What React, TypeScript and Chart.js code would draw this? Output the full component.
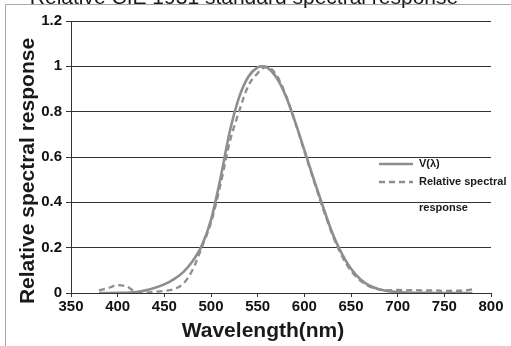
import React, { useEffect, useRef } from "react";
import { Chart, registerables } from "chart.js";

Chart.register(...registerables);

const titleText = "Relative CIE 1931 standard spectral response";
const xTitle = "Wavelength(nm)";
const yTitle = "Relative spectral response";
const seriesNames = ["V(λ)", "Relative spectral", "response"];

const wavelengths = [380, 390, 400, 410, 420, 430, 440, 450, 460, 470, 480, 490, 500, 510, 520, 530, 540, 550, 555, 560, 570, 580, 590, 600, 610, 620, 630, 640, 650, 660, 670, 680, 690, 700, 710, 720, 730, 740, 750, 760, 770, 780];
const vLambda = [0.0000, 0.0001, 0.0004, 0.0012, 0.004, 0.0116, 0.023, 0.038, 0.06, 0.091, 0.139, 0.208, 0.323, 0.503, 0.71, 0.862, 0.954, 0.995, 1.0, 0.995, 0.952, 0.87, 0.757, 0.631, 0.503, 0.381, 0.265, 0.175, 0.107, 0.061, 0.032, 0.017, 0.0082, 0.0041, 0.0021, 0.001, 0.0005, 0.0003, 0.0001, 0.0001, 0, 0];
const relResponse = [0.012, 0.022, 0.035, 0.028, 0.004, 0.002, 0.005, 0.009, 0.017, 0.04, 0.1, 0.2, 0.31, 0.475, 0.665, 0.8, 0.915, 0.97, 0.99, 0.998, 0.962, 0.875, 0.755, 0.625, 0.497, 0.372, 0.258, 0.165, 0.098, 0.055, 0.028, 0.016, 0.012, 0.014, 0.012, 0.013, 0.011, 0.012, 0.009, 0.01, 0.01, 0.016];

const FONT = "'Liberation Sans', Arial, Helvetica, sans-serif";
const LINE_COLOR = "#8e8e8e";

const decorPlugin = {
  id: "decor",
  afterDraw(chart: any) {
    const ctx = chart.ctx as CanvasRenderingContext2D;
    const W = chart.width;
    const H = chart.height;
    ctx.save();
    // frame
    ctx.strokeStyle = "#a8a8a8";
    ctx.lineWidth = 1;
    ctx.beginPath();
    ctx.moveTo(5.5, H);
    ctx.lineTo(5.5, 4.5);
    ctx.lineTo(W, 4.5);
    ctx.stroke();
    // title (cut off at top)
    ctx.fillStyle = "#1a1a1a";
    ctx.font = `21px ${FONT}`;
    ctx.textAlign = "center";
    ctx.textBaseline = "alphabetic";
    ctx.fillText(titleText, 244, 4);
    // x title
    ctx.font = `bold 21px ${FONT}`;
    ctx.fillText(xTitle, 263, 337);
    // y title
    ctx.save();
    ctx.translate(34, 171);
    ctx.rotate(-Math.PI / 2);
    ctx.fillText(yTitle, 0, 0);
    ctx.restore();
    // legend
    ctx.strokeStyle = LINE_COLOR;
    ctx.lineWidth = 2.5;
    ctx.beginPath();
    ctx.moveTo(379, 164);
    ctx.lineTo(413, 164);
    ctx.stroke();
    ctx.setLineDash([6, 4]);
    ctx.beginPath();
    ctx.moveTo(379, 182);
    ctx.lineTo(413, 182);
    ctx.stroke();
    ctx.setLineDash([]);
    ctx.fillStyle = "#1a1a1a";
    ctx.font = `bold 11px ${FONT}`;
    ctx.textAlign = "left";
    ctx.textBaseline = "middle";
    ctx.fillText(seriesNames[0], 419, 164);
    ctx.fillText(seriesNames[1], 419, 182);
    ctx.fillText(seriesNames[2], 419, 208);
    ctx.restore();
  },
};

export default function App() {
  const ref = useRef<HTMLCanvasElement>(null);
  useEffect(() => {
    const canvas = ref.current!;
    const chart = new Chart(canvas, {
      type: "line",
      data: {
        datasets: [
          {
            label: seriesNames[0],
            data: wavelengths.map((w, i) => ({ x: w, y: vLambda[i] })),
            borderColor: LINE_COLOR,
            borderWidth: 2.6,
            pointRadius: 0,
            cubicInterpolationMode: "monotone",
            fill: false,
            order: 0,
          },
          {
            label: seriesNames[1] + " " + seriesNames[2],
            data: wavelengths.map((w, i) => ({ x: w, y: relResponse[i] })),
            borderColor: LINE_COLOR,
            borderWidth: 2.3,
            borderDash: [6, 4],
            pointRadius: 0,
            cubicInterpolationMode: "monotone",
            fill: false,
            order: 1,
          },
        ],
      },
      options: {
        animation: false,
        responsive: false,
        devicePixelRatio: 1,
        layout: { padding: { left: 0, top: 21, right: 20, bottom: 0 } },
        plugins: { legend: { display: false }, tooltip: { enabled: false }, title: { display: false } },
        scales: {
          x: {
            type: "linear",
            min: 350,
            max: 800,
            ticks: { stepSize: 50, color: "#111", font: { family: FONT, size: 15, weight: "bold" }, padding: 1, maxRotation: 0 },
            grid: { drawOnChartArea: false, drawTicks: true, tickLength: 4, color: "#333" },
            border: { color: "#333", width: 1 },
            afterFit: (s: any) => { s.height = 53; },
          },
          y: {
            min: 0,
            max: 1.2,
            ticks: {
              stepSize: 0.2,
              color: "#111",
              font: { family: FONT, size: 15, weight: "bold" },
              padding: 4,
              callback: (v: any) => String(Number(Number(v).toFixed(1))),
            },
            grid: { color: "#333", lineWidth: 1, tickLength: 5 },
            border: { color: "#333", width: 1 },
            afterFit: (s: any) => { s.width = 71; },
          },
        },
      },
      plugins: [decorPlugin],
    });
    return () => chart.destroy();
  }, []);
  return (
    <div style={{ position: "absolute", left: 0, top: 0, width: 511, height: 346, background: "#fff" }}>
      <canvas ref={ref} width={511} height={346} style={{ display: "block" }} />
    </div>
  );
}
